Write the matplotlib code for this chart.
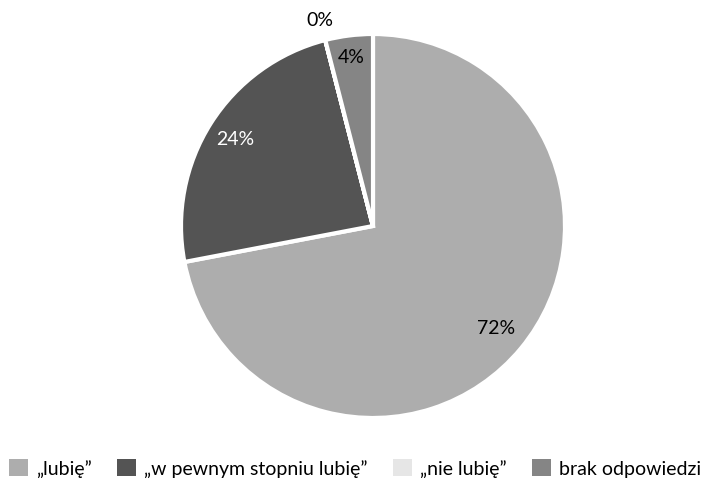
import matplotlib.pyplot as plt
from matplotlib.patches import Patch
import numpy as np

plt.rcParams['font.family'] = ['Lato', 'DejaVu Sans']

labels = ['„lubię”', '„w pewnym stopniu lubię”', '„nie lubię”', 'brak odpowiedzi']
values = [72, 24, 0.001, 4]
pct_text = ['72%', '24%', '0%', '4%']
colors = ['#ADADAD', '#545454', '#E6E6E6', '#858585']
text_colors = ['black', 'white', 'black', 'black']
label_dist = [0.83, 0.85, 1.11, 0.89]

fig = plt.figure(figsize=(7.10, 4.81), dpi=100)
ax = fig.add_axes([133 / 710, 14 / 481, 480 / 710, 480 / 481])

wedges, _ = ax.pie(values, colors=colors, startangle=90, counterclock=False,
                   wedgeprops=dict(edgecolor='white', linewidth=3))
ax.set_xlim(-1.25, 1.25)
ax.set_ylim(-1.25, 1.25)
ax.set_aspect('equal')
ax.axis('off')

for w, txt, tc, d in zip(wedges, pct_text, text_colors, label_dist):
    ang = np.deg2rad((w.theta1 + w.theta2) / 2)
    ax.text(d * np.cos(ang), d * np.sin(ang), txt, color=tc, fontsize=14,
            ha='center', va='center')

handles = [Patch(facecolor=c, edgecolor='none') for c in colors]
fig.legend(handles, labels, loc='center', bbox_to_anchor=(0.5, 12 / 481),
           ncol=4, frameon=False, fontsize=14, handlelength=1.0,
           handleheight=1.0, handletextpad=0.4, columnspacing=1.3,
           borderpad=0, borderaxespad=0)

fig.savefig('out.png', dpi=100)
